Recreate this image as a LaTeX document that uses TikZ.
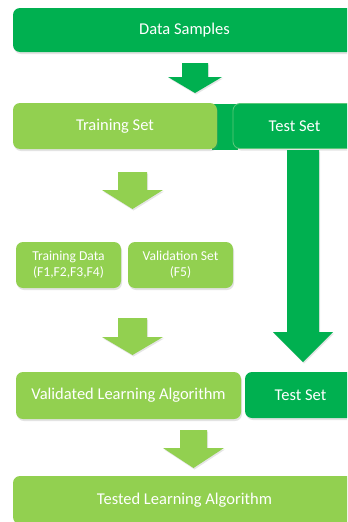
\documentclass[tikz,border=0pt]{standalone}
\usepackage{fontspec}
\setmainfont{Carlito}
\usetikzlibrary{shadows}
\definecolor{darkgreen}{HTML}{00B050}
\definecolor{lightgreen}{HTML}{92D050}
\definecolor{edgegreen}{HTML}{5CC97A}
% downward block arrow: style, centre x, shaft width, head width, top, head start, tip
\newcommand\blockarrow[7]{%
  \fill[#1] (#2-#3/2,#5) -- (#2+#3/2,#5) -- (#2+#3/2,#6) -- (#2+#4/2,#6)
    -- (#2,#7) -- (#2-#4/2,#6) -- (#2-#3/2,#6) -- cycle;}
\tikzset{
  box/.style={rounded corners=7pt, text=white, align=center, inner sep=0pt,
    font=\fontsize{16.5}{19}\selectfont,
    drop shadow={shadow xshift=1pt, shadow yshift=-2pt, opacity=0.22}},
  smallbox/.style={box, font=\fontsize{13.6}{16}\selectfont},
  dark/.style={fill=darkgreen},
  light/.style={fill=lightgreen},
  darrow/.style={fill=darkgreen, drop shadow={shadow xshift=1pt, shadow yshift=-1.5pt, opacity=0.2}},
  larrow/.style={fill=lightgreen, drop shadow={shadow xshift=1pt, shadow yshift=-1.5pt, opacity=0.2}},
}
\begin{document}
\begin{tikzpicture}[x=1pt, y=-1pt]
\useasboundingbox (0,0) rectangle (348,522);
\clip (0,0) rectangle (347,522);
\fill[white] (0,0) rectangle (348,522);

% top row
\node[box, dark, minimum width=343pt, minimum height=44pt] (ds) at (184.5,30) {Data Samples};
\blockarrow{darrow}{195}{26}{54}{63}{77}{93}

% split into training and test sets
\fill[darkgreen] (212,104) rectangle (238,150);
\node[box, light, minimum width=204pt, minimum height=46pt] (train) at (115,126) {Training Set};
\node[box, dark, draw=edgegreen, line width=0.8pt, minimum width=123pt, minimum height=45pt] (test1) at (294.5,126) {Test Set};

% test set carried straight down
\blockarrow{darrow}{303}{32}{60}{150}{332}{362}

% folds
\blockarrow{larrow}{132.5}{29}{61}{172}{190}{209}
\node[smallbox, light, minimum width=105pt, minimum height=46pt] (td) at (68.5,265) {Training Data\\(F1,F2,F3,F4)};
\node[smallbox, light, minimum width=105pt, minimum height=46pt] (vs) at (180.5,265) {Validation Set\\(F5)};
\blockarrow{larrow}{132.5}{29}{61}{318}{337}{355}

% validated model and test set
\node[box, light, minimum width=225pt, minimum height=47pt] (vla) at (128.5,395.5) {Validated Learning Algorithm};
\node[box, dark, minimum width=111pt, minimum height=46pt] (test2) at (300.5,395) {Test Set};
\blockarrow{larrow}{193.5}{27}{61}{430}{448}{468}

% final result
\node[box, light, minimum width=343pt, minimum height=48pt] (tla) at (184.5,500) {Tested Learning Algorithm};
\end{tikzpicture}
\end{document}
